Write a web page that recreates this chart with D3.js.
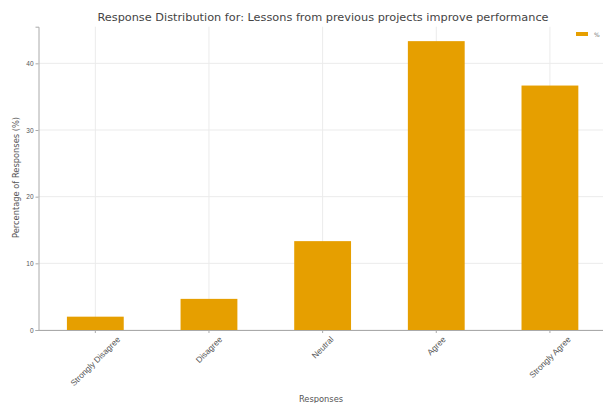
<!DOCTYPE html>
<html>
<head>
<meta charset="utf-8">
<script src="https://cdn.jsdelivr.net/npm/d3@7"></script>
<style>
  html, body { margin: 0; padding: 0; background: #fff; overflow: hidden; }
  svg { display: block; font-family: "DejaVu Sans", sans-serif; }
</style>
</head>
<body>
<svg id="chart" width="603" height="403"></svg>
<script>
// Survey responses (share of respondents, %)
const categories = ["Strongly Disagree", "Disagree", "Neutral", "Agree", "Strongly Agree"];
const percentages = [2.0, 4.67, 13.33, 43.33, 36.67];
const yTicks = [0, 10, 20, 30, 40];
const titleText = "Response Distribution for: Lessons from previous projects improve performance";
const xLabel = "Responses";
const yLabel = "Percentage of Responses (%)";
const legendLabel = "%";

const svg = d3.select("#chart");
const margin = { left: 38.5, top: 26.7, bottom: 330 };
const plotRight = 606.75;
const smallFont = 8.3;

const x = d3.scaleBand()
  .domain(categories)
  .range([margin.left, plotRight])
  .paddingInner(0.5)
  .paddingOuter(0.25);

const y = d3.scaleLinear()
  .domain([0, d3.max(percentages) * 1.05])
  .range([margin.bottom, margin.top]);

// grid
const grid = svg.append("g");
grid.selectAll("line.h").data(yTicks).join("line")
  .attr("x1", margin.left).attr("x2", plotRight)
  .attr("y1", d => y(d)).attr("y2", d => y(d))
  .attr("stroke", "#ebebeb").attr("stroke-width", 1);
grid.selectAll("line.v").data(categories).join("line")
  .attr("x1", d => x(d) + x.bandwidth() / 2).attr("x2", d => x(d) + x.bandwidth() / 2)
  .attr("y1", margin.top).attr("y2", margin.bottom)
  .attr("stroke", "#ebebeb").attr("stroke-width", 1);

// bars
svg.append("g").selectAll("rect").data(percentages).join("rect")
  .attr("x", (d, i) => x(categories[i]))
  .attr("width", x.bandwidth())
  .attr("y", d => y(d))
  .attr("height", d => y(0) - y(d))
  .attr("fill", "#E69F00");

// y axis
const yAxis = svg.append("g")
  .attr("transform", `translate(${margin.left},0)`)
  .call(d3.axisLeft(y).tickValues(yTicks).tickSize(3).tickPadding(2));
yAxis.select(".domain").attr("stroke", "#aaa");
yAxis.selectAll(".tick line").attr("stroke", "#aaa");
yAxis.selectAll(".tick text").attr("fill", "#555").style("font-size", "6.5px");

// x axis, labels rotated 45° and centred under each tick
const xAxis = svg.append("g")
  .attr("transform", `translate(0,${margin.bottom})`)
  .call(d3.axisBottom(x).tickSize(3).tickSizeOuter(0));
xAxis.select(".domain").attr("stroke", "#aaa");
xAxis.selectAll(".tick line").attr("stroke", "#aaa");
xAxis.selectAll(".tick text")
  .attr("fill", "#555")
  .style("font-size", smallFont + "px")
  .attr("text-anchor", "middle")
  .attr("dy", "0.35em")
  .attr("y", 0)
  .attr("transform", function () {
    const len = this.getComputedTextLength();
    const half = (len + smallFont) * Math.SQRT1_2 / 2;
    return `translate(0,${5 + half}) rotate(-45)`;
  });

// title and axis labels
svg.append("text")
  .attr("x", 323).attr("y", 21)
  .attr("text-anchor", "middle")
  .attr("fill", "#444")
  .style("font-size", "11.3px")
  .text(titleText);

svg.append("text")
  .attr("x", 321).attr("y", 402)
  .attr("text-anchor", "middle")
  .attr("fill", "#555")
  .style("font-size", smallFont + "px")
  .text(xLabel);

svg.append("text")
  .attr("transform", `translate(19,177.5) rotate(-90)`)
  .attr("text-anchor", "middle")
  .attr("fill", "#555")
  .style("font-size", smallFont + "px")
  .text(yLabel);

// legend
const legend = svg.append("g").attr("transform", "translate(576,32)");
legend.append("rect").attr("width", 12).attr("height", 4).attr("fill", "#E69F00");
legend.append("text").attr("x", 18).attr("y", 5)
  .attr("fill", "#777").style("font-size", "6px").text(legendLabel);
</script>
</body>
</html>
